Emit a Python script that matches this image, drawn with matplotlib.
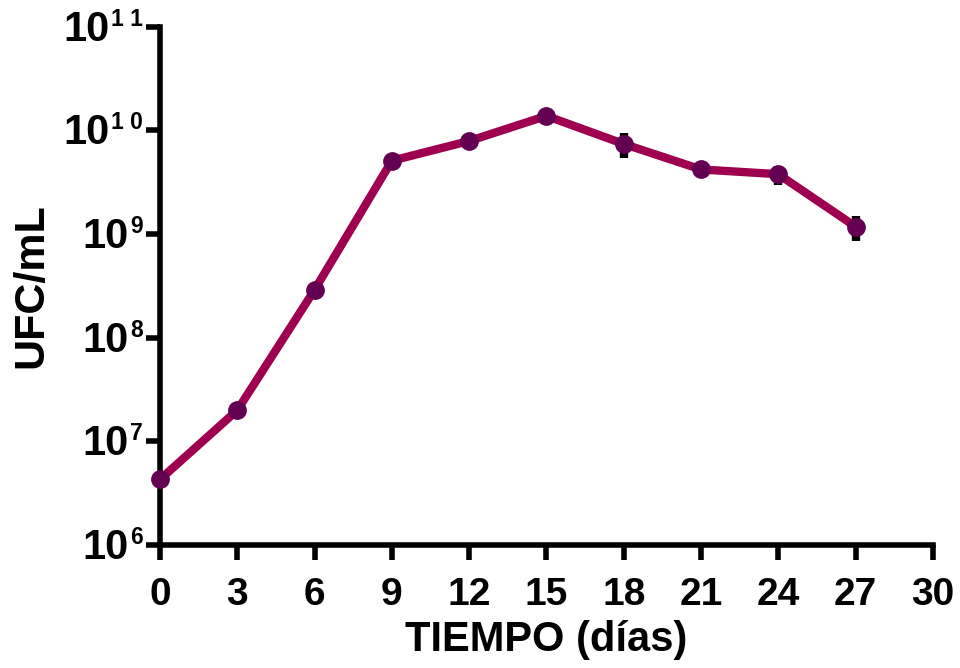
import matplotlib.pyplot as plt
import numpy as np

# Growth curve, UFC/mL vs days
dias = [0, 3, 6, 9, 12, 15, 18, 21, 24, 27]
ufc = [4.3e6, 2.0e7, 2.9e8, 5.1e9, 7.9e9, 1.38e10, 7.4e9, 4.2e9, 3.78e9, 1.18e9]
ufc_sd = [0, 0, 0, 0, 0, 0, 2.0e9, 0, 0.8e9, 0.32e9]

x_ticks = [0, 3, 6, 9, 12, 15, 18, 21, 24, 27, 30]
y_ticks = [1e6, 1e7, 1e8, 1e9, 1e10, 1e11]
y_exp = ['6', '7', '8', '9', '1 0', '1 1']

plt.rcParams['font.family'] = ['Liberation Sans', 'DejaVu Sans']
plt.rcParams['font.weight'] = 'bold'

fig = plt.figure(figsize=(9.6, 6.68), dpi=100)
ax = fig.add_axes([0.1667, 0.184, 0.805, 0.776])

line_col = '#9e004f'
mark_col = '#640052'

ax.errorbar(dias, ufc, yerr=ufc_sd, fmt='none', ecolor='black',
            elinewidth=6, capsize=0, zorder=2)
ax.plot(dias, ufc, '-', color=line_col, lw=6, zorder=3)
ax.plot(dias, ufc, 'o', color=mark_col, ms=12.5, zorder=4, clip_on=False)

ax.set_yscale('log')
ax.set_xlim(0, 30)
ax.set_ylim(1e6, 1e11)
ax.set_xticks(x_ticks)
ax.set_xticklabels([str(t) for t in x_ticks], fontsize=28, fontweight='bold')
ax.set_yticks(y_ticks)
ax.set_yticklabels([''] * len(y_ticks))
ax.yaxis.set_minor_locator(plt.NullLocator())
ax.xaxis.set_minor_locator(plt.NullLocator())

# y tick labels: big "10" with a small superscript exponent, right aligned
for yt, ex in zip(y_ticks, y_exp):
    sup = ax.annotate(ex, xy=(0, yt), xycoords=('axes fraction', 'data'),
                      xytext=(-17, 1), textcoords='offset pixels',
                      ha='right', va='baseline', fontsize=16.5,
                      fontweight='bold', annotation_clip=False)
    ax.annotate('10', xy=(0, yt), xycoords=(sup, ax.transData),
                xytext=(-2, -14), textcoords='offset pixels',
                ha='right', va='baseline', fontsize=30, fontweight='bold',
                annotation_clip=False)

ax.spines['top'].set_visible(False)
ax.spines['right'].set_visible(False)
for s in ['left', 'bottom']:
    ax.spines[s].set_linewidth(4)
ax.tick_params(axis='x', length=11, width=4, pad=12)
ax.tick_params(axis='y', length=10, width=4, pad=2)

ax.set_xlabel('TIEMPO (días)', fontsize=30, fontweight='bold', labelpad=5)
ax.set_ylabel('UFC/mL', fontsize=31, fontweight='bold')
ax.yaxis.set_label_coords(-0.14, 0.5)

fig.savefig('out.png', dpi=100)
